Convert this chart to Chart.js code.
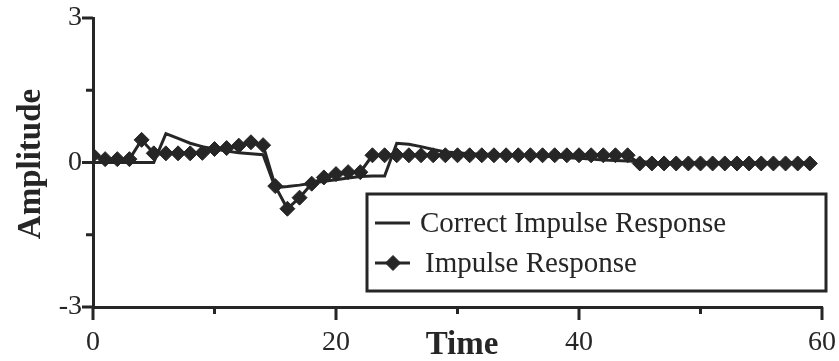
<!DOCTYPE html>
<html>
<head>
<meta charset="utf-8">
<script src="https://cdn.jsdelivr.net/npm/chart.js@4"></script>
<style>
  html, body { margin: 0; padding: 0; background: #fff; }
  canvas { display: block; }
</style>
</head>
<body>
<canvas id="impulseChart" width="839" height="361"></canvas>
<script>
const time = [
  0, 1, 2, 3, 4, 5, 6, 7, 8, 9,
  10, 11, 12, 13, 14, 15, 16, 17, 18, 19,
  20, 21, 22, 23, 24, 25, 26, 27, 28, 29,
  30, 31, 32, 33, 34, 35, 36, 37, 38, 39,
  40, 41, 42, 43, 44, 45, 46, 47, 48, 49,
  50, 51, 52, 53, 54, 55, 56, 57, 58, 59,
];

const correctResponse = [
  0, 0, 0, 0, 0, 0, 0.6, 0.5, 0.4, 0.33,
  0.28, 0.24, 0.2, 0.18, 0.16, -0.52, -0.5, -0.47, -0.43, -0.39,
  -0.36, -0.32, -0.29, -0.28, -0.28, 0.4, 0.38, 0.33, 0.27, 0.22,
  0.2, 0.18, 0.17, 0.17, 0.16, 0.15, 0.14, 0.13, 0.12, 0.1,
  0.09, 0.07, 0.05, 0.04, 0.03, 0.02, 0, 0, 0, 0,
  0, 0, 0, 0, 0, 0, 0, 0, 0, 0,
];

const impulseResponse = [
  0.15, 0.07, 0.07, 0.07, 0.47, 0.19, 0.19, 0.19, 0.19, 0.2,
  0.28, 0.3, 0.35, 0.42, 0.36, -0.49, -0.96, -0.73, -0.44, -0.31,
  -0.24, -0.2, -0.2, 0.15, 0.15, 0.15, 0.15, 0.15, 0.15, 0.15,
  0.15, 0.15, 0.15, 0.15, 0.15, 0.15, 0.15, 0.15, 0.15, 0.15,
  0.15, 0.15, 0.15, 0.15, 0.15, -0.02, -0.02, -0.02, -0.02, -0.02,
  -0.02, -0.02, -0.02, -0.02, -0.02, -0.02, -0.02, -0.02, -0.02, -0.02,
];

const xLabelTicks = [0, 20, 40, 60];
const yLabelTicks = [-3, 0, 3];

const ink = "#262626";
const serif = "'Liberation Serif', 'DejaVu Serif', serif";

// tick marks: long ones where a label sits, short ones between
const axisTicks = {
  id: "axisTicks",
  afterDraw(chart) {
    const { ctx, chartArea, scales } = chart;
    const x = scales.x;
    const y = scales.y;
    ctx.save();
    ctx.strokeStyle = ink;
    ctx.lineWidth = 3;
    ctx.beginPath();
    x.ticks.forEach((t) => {
      const px = x.getPixelForValue(t.value);
      const len = xLabelTicks.includes(t.value) ? 13 : 7;
      ctx.moveTo(px, chartArea.bottom);
      ctx.lineTo(px, chartArea.bottom + len);
    });
    y.ticks.forEach((t) => {
      const py = y.getPixelForValue(t.value);
      const len = yLabelTicks.includes(t.value) ? 11 : 7;
      ctx.moveTo(chartArea.left, py);
      ctx.lineTo(chartArea.left - len, py);
    });
    ctx.stroke();

    // axis titles
    ctx.fillStyle = ink;
    ctx.font = `bold 33px ${serif}`;
    ctx.textAlign = "center";
    ctx.textBaseline = "alphabetic";
    ctx.fillText("Time", 462, 354);
    ctx.save();
    ctx.translate(40, 164);
    ctx.rotate(-Math.PI / 2);
    ctx.fillText("Amplitude", 0, 0);
    ctx.restore();
    ctx.restore();
  },
};

// boxed legend inside the plot, like the original figure
const boxLegend = {
  id: "boxLegend",
  afterDraw(chart) {
    const { ctx } = chart;
    const box = { left: 367, top: 194, right: 826, bottom: 291 };
    ctx.save();
    ctx.strokeStyle = ink;
    ctx.fillStyle = "#fff";
    ctx.lineWidth = 3;
    ctx.fillRect(box.left, box.top, box.right - box.left, box.bottom - box.top);
    ctx.strokeRect(box.left, box.top, box.right - box.left, box.bottom - box.top);

    const rows = [223, 263];
    chart.data.datasets.forEach((ds, i) => {
      const yy = rows[i];
      ctx.strokeStyle = ds.borderColor;
      ctx.lineWidth = 3;
      ctx.beginPath();
      ctx.moveTo(375, yy);
      ctx.lineTo(410, yy);
      ctx.stroke();
      if (ds.pointRadius > 0) {
        ctx.fillStyle = ds.pointBackgroundColor;
        ctx.lineWidth = 1;
        Chart.helpers.drawPoint(ctx, {
          pointStyle: ds.pointStyle,
          radius: ds.pointRadius,
          rotation: 0,
          borderWidth: 1,
        }, 393, yy);
      }
      ctx.fillStyle = ink;
      ctx.font = `29px ${serif}`;
      ctx.textAlign = "left";
      ctx.textBaseline = "middle";
      ctx.fillText(ds.label, i === 0 ? 420 : 425, yy + 1);
    });
    ctx.restore();
  },
};

new Chart(document.getElementById("impulseChart"), {
  type: "line",
  data: {
    datasets: [
      {
        label: "Correct Impulse Response",
        data: time.map((t, i) => ({ x: t, y: correctResponse[i] })),
        borderColor: ink,
        borderWidth: 3,
        pointRadius: 0,
        tension: 0,
      },
      {
        label: "Impulse Response",
        data: time.map((t, i) => ({ x: t, y: impulseResponse[i] })),
        borderColor: ink,
        borderWidth: 3,
        pointStyle: "rectRot",
        pointRadius: 7.5,
        pointBackgroundColor: ink,
        pointBorderColor: ink,
        pointBorderWidth: 1,
        tension: 0,
      },
    ],
  },
  options: {
    responsive: false,
    animation: false,
    devicePixelRatio: 1,
    layout: {
      padding: 0,
    },
    plugins: {
      legend: { display: false },
      tooltip: { enabled: false },
    },
    scales: {
      x: {
        type: "linear",
        min: 0,
        max: 60,
        afterFit: (axis) => {
          axis.height = 54;
          axis.paddingLeft = 0;
          axis.paddingRight = 17;
        },
        grid: { display: false, drawTicks: false },
        border: { display: true, color: ink, width: 3 },
        ticks: {
          stepSize: 10,
          padding: 19,
          color: ink,
          font: { family: serif, size: 28 },
          callback: (value) => (xLabelTicks.includes(value) ? String(value) : ""),
        },
      },
      y: {
        min: -3,
        max: 3,
        afterFit: (axis) => {
          axis.width = 93;
          axis.paddingTop = 18;
          axis.paddingBottom = 0;
        },
        grid: { display: false, drawTicks: false },
        border: { display: true, color: ink, width: 3 },
        ticks: {
          stepSize: 1.5,
          padding: 11,
          color: ink,
          font: { family: serif, size: 28 },
          callback: (value) => (yLabelTicks.includes(value) ? String(value) : ""),
        },
      },
    },
  },
  plugins: [axisTicks, boxLegend],
});
</script>
</body>
</html>
